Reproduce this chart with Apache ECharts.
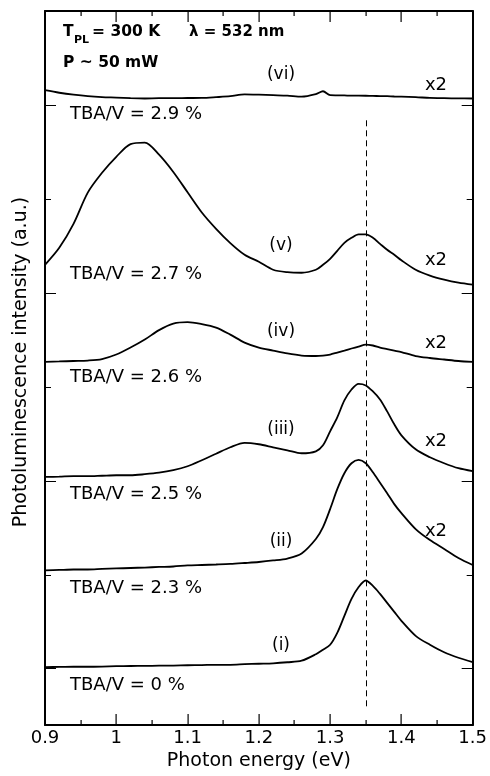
<!DOCTYPE html>
<html>
<head>
<meta charset="utf-8">
<script src="https://cdn.jsdelivr.net/npm/echarts@6/dist/echarts.min.js"></script>
<style>
  html, body { margin: 0; padding: 0; background: #fff; }
  #chart { width: 490px; height: 776px; }
</style>
</head>
<body>
<div id="chart"></div>
<script>
// photon energy grid (eV)
const energy = [0.90, 0.92, 0.94, 0.96, 0.98, 1.00, 1.02, 1.04, 1.06, 1.08, 1.10, 1.12, 1.14, 1.16, 1.18, 1.20, 1.22, 1.24, 1.26, 1.28,
  1.29, 1.30, 1.31, 1.32, 1.33, 1.34, 1.35, 1.36, 1.37, 1.38, 1.39, 1.40, 1.42, 1.44, 1.46, 1.48, 1.50]

// PL intensity, offset (a.u.)
const curveI = [0.018, 0.019, 0.021, 0.021, 0.023, 0.027, 0.029, 0.030, 0.032, 0.034, 0.037, 0.039, 0.042, 0.042, 0.048, 0.053, 0.058, 0.069, 0.085, 0.154,
  0.202, 0.255, 0.382, 0.563, 0.743, 0.870, 0.939, 0.881, 0.796, 0.701, 0.605, 0.510, 0.350, 0.255, 0.175, 0.117, 0.071]
const curveII = [1.046, 1.051, 1.056, 1.056, 1.062, 1.067, 1.072, 1.077, 1.083, 1.088, 1.099, 1.104, 1.109, 1.115, 1.125, 1.136, 1.152, 1.173, 1.226, 1.380,
  1.507, 1.699, 1.911, 2.081, 2.187, 2.222, 2.187, 2.091, 1.980, 1.868, 1.752, 1.656, 1.486, 1.369, 1.274, 1.178, 1.104]
const curveIII = [2.041, 2.044, 2.049, 2.049, 2.054, 2.059, 2.059, 2.070, 2.086, 2.113, 2.155, 2.219, 2.288, 2.357, 2.404, 2.389, 2.357, 2.325, 2.293, 2.314,
  2.378, 2.527, 2.675, 2.856, 2.972, 3.031, 3.015, 2.951, 2.866, 2.739, 2.601, 2.484, 2.335, 2.251, 2.187, 2.134, 2.102]
const curveIV = [3.266, 3.270, 3.275, 3.280, 3.296, 3.344, 3.418, 3.503, 3.604, 3.673, 3.689, 3.668, 3.631, 3.556, 3.471, 3.418, 3.386, 3.355, 3.333, 3.328,
  3.333, 3.344, 3.365, 3.386, 3.408, 3.429, 3.450, 3.440, 3.418, 3.402, 3.386, 3.370, 3.328, 3.307, 3.291, 3.275, 3.266]
const curveV = [4.299, 4.480, 4.735, 5.067, 5.278, 5.448, 5.584, 5.600, 5.471, 5.287, 5.071, 4.856, 4.682, 4.530, 4.406, 4.331, 4.246, 4.220, 4.214, 4.246,
  4.299, 4.363, 4.448, 4.533, 4.586, 4.623, 4.623, 4.586, 4.522, 4.459, 4.406, 4.347, 4.246, 4.183, 4.140, 4.108, 4.087]
const curveVI = [6.157, 6.130, 6.109, 6.093, 6.083, 6.078, 6.072, 6.069, 6.072, 6.072, 6.074, 6.075, 6.083, 6.093, 6.112, 6.109, 6.104, 6.099, 6.088, 6.115,
  6.146, 6.104, 6.102, 6.101, 6.099, 6.099, 6.098, 6.096, 6.095, 6.093, 6.090, 6.088, 6.083, 6.075, 6.072, 6.070, 6.069]

const curves = [curveI, curveII, curveIII, curveIV, curveV, curveVI]
const curveTags = ['(i)', '(ii)', '(iii)', '(iv)', '(v)', '(vi)']
const tbaLabels = ['TBA/V = 0 %', 'TBA/V = 2.3 %', 'TBA/V = 2.5 %', 'TBA/V = 2.6 %', 'TBA/V = 2.7 %', 'TBA/V = 2.9 %']
const scaleLabel = 'x2'

// dashed guide at the (i) peak
const peakEnergy = 1.35
const peakLineFrom = -0.4
const peakLineTo = 5.84

// tick positions
const energyMajor = [0.9, 1.0, 1.1, 1.2, 1.3, 1.4, 1.5]
const energyMinor = [0.95, 1.05, 1.15, 1.25, 1.35, 1.45]
const offsetMajor = [0, 2, 4, 6]
const offsetMinor = [1, 3, 5]

const Y_MIN = -0.6
const Y_MAX = 7
const FONT = '"DejaVu Sans", "Liberation Sans", sans-serif'

const chart = echarts.init(document.getElementById('chart'))

// label positions in pixels
const tbaPos = [685, 588, 494, 377, 274.5, 114]
const tagPos = [646, 542, 430, 332, 246, 75]
const x2Pos = [null, 531, 441.5, 343.5, 260, 85]

const graphics = []
tbaLabels.forEach((t, i) => {
  graphics.push({ type: 'text', x: 70, y: tbaPos[i], silent: true,
    style: { text: t, font: '18px ' + FONT, fill: '#000', verticalAlign: 'middle', textVerticalAlign: 'middle' } })
})
curveTags.forEach((t, i) => {
  graphics.push({ type: 'text', x: 281, y: tagPos[i], silent: true,
    style: { text: t, font: '17px ' + FONT, fill: '#000', align: 'center', textAlign: 'center', verticalAlign: 'middle', textVerticalAlign: 'middle' } })
  if (x2Pos[i] !== null) {
    graphics.push({ type: 'text', x: 436, y: x2Pos[i], silent: true,
      style: { text: scaleLabel, font: '18px ' + FONT, fill: '#000', align: 'center', textAlign: 'center', verticalAlign: 'middle', textVerticalAlign: 'middle' } })
  }
})
// header
const hdr = (text, x, y, size) => ({ type: 'text', x, y, silent: true,
  style: { text, font: 'bold ' + size + 'px ' + FONT, fill: '#000', verticalAlign: 'middle', textVerticalAlign: 'middle' } })
graphics.push(hdr('T', 63, 32, 15.5))
graphics.push(hdr('PL', 74, 40.5, 11))
graphics.push(hdr('= 300 K', 92, 32, 15.5))
graphics.push(hdr('λ = 532 nm', 189, 32, 15))
graphics.push(hdr('P ~ 50 mW', 63, 62.5, 15.5))
// y axis title
graphics.push({ type: 'text', x: 21, y: 362, rotation: Math.PI / 2, silent: true,
  style: { text: 'Photoluminescence intensity (a.u.)', font: '19px ' + FONT, fill: '#000',
    align: 'center', textAlign: 'center', verticalAlign: 'middle', textVerticalAlign: 'middle' } })

const yAxisBase = (position, ticks, len, showLine) => ({
  type: 'value', position, min: Y_MIN, max: Y_MAX,
  axisLine: { show: showLine, onZero: false, lineStyle: { color: '#000', width: 2 } },
  axisTick: { show: true, inside: true, length: len, customValues: ticks, lineStyle: { color: '#000', width: 1 } },
  axisLabel: { show: false },
  splitLine: { show: false }
})

const xAxisBase = (position, labels) => ({
  type: 'value', position, min: 0.9, max: 1.5, interval: 0.1,
  axisLine: { show: true, onZero: false, lineStyle: { color: '#000', width: 2 } },
  axisTick: { show: false },
  axisLabel: { show: labels, color: '#000', fontSize: 18, fontFamily: FONT, margin: 4 },
  splitLine: { show: false }
})

const bottomX = xAxisBase('bottom', true)
bottomX.name = 'Photon energy (eV)'
bottomX.nameLocation = 'middle'
bottomX.nameGap = 25
bottomX.nameTextStyle = { color: '#000', fontSize: 19, fontFamily: FONT }

// inward energy ticks on the bottom and top frame, placed through the axis scale,
// drawn as thin filled rects on a layer above the axes
const tickSeries = (values, len) => ({
  type: 'custom',
  silent: true,
  clip: false,
  zlevel: 1,
  z: 100,
  xAxisIndex: 0,
  yAxisIndex: 0,
  encode: { x: 0, y: 1 },
  data: values.map(v => [v, 1]),
  renderItem: (params, api) => {
    const b = api.coord([api.value(0), Y_MIN])
    const t = api.coord([api.value(0), Y_MAX])
    const x = Math.round(b[0]) - 0.5
    return {
      type: 'group',
      children: [
        { type: 'rect', shape: { x, y: b[1] - len, width: 1.2, height: len }, style: { fill: '#000' } },
        { type: 'rect', shape: { x, y: t[1], width: 1.2, height: len }, style: { fill: '#000' } }
      ]
    }
  }
})

const series = curves.map((c, i) => ({
  type: 'line',
  name: curveTags[i],
  data: energy.map((e, k) => [e, c[k]]),
  showSymbol: false,
  smooth: 0.3,
  lineStyle: { color: '#000', width: 1.8 },
  itemStyle: { color: '#000' }
}))
series[0].markLine = {
  silent: true,
  symbol: 'none',
  label: { show: false },
  lineStyle: { color: '#000', width: 1, type: [6, 4] },
  data: [[{ coord: [peakEnergy, peakLineFrom] }, { coord: [peakEnergy, peakLineTo] }]]
}
series.push(tickSeries(energyMajor, 11))
series.push(tickSeries(energyMinor, 5))

chart.setOption({
  animation: false,
  backgroundColor: '#fff',
  grid: { left: 45, right: 17, top: 11, bottom: 49 },
  xAxis: [bottomX, xAxisBase('top', false)],
  yAxis: [
    yAxisBase('left', offsetMajor, 11, true),
    yAxisBase('left', offsetMinor, 6, false),
    yAxisBase('right', offsetMajor, 11, true),
    yAxisBase('right', offsetMinor, 6, false)
  ],
  graphic: graphics,
  series
})
</script>
</body>
</html>
